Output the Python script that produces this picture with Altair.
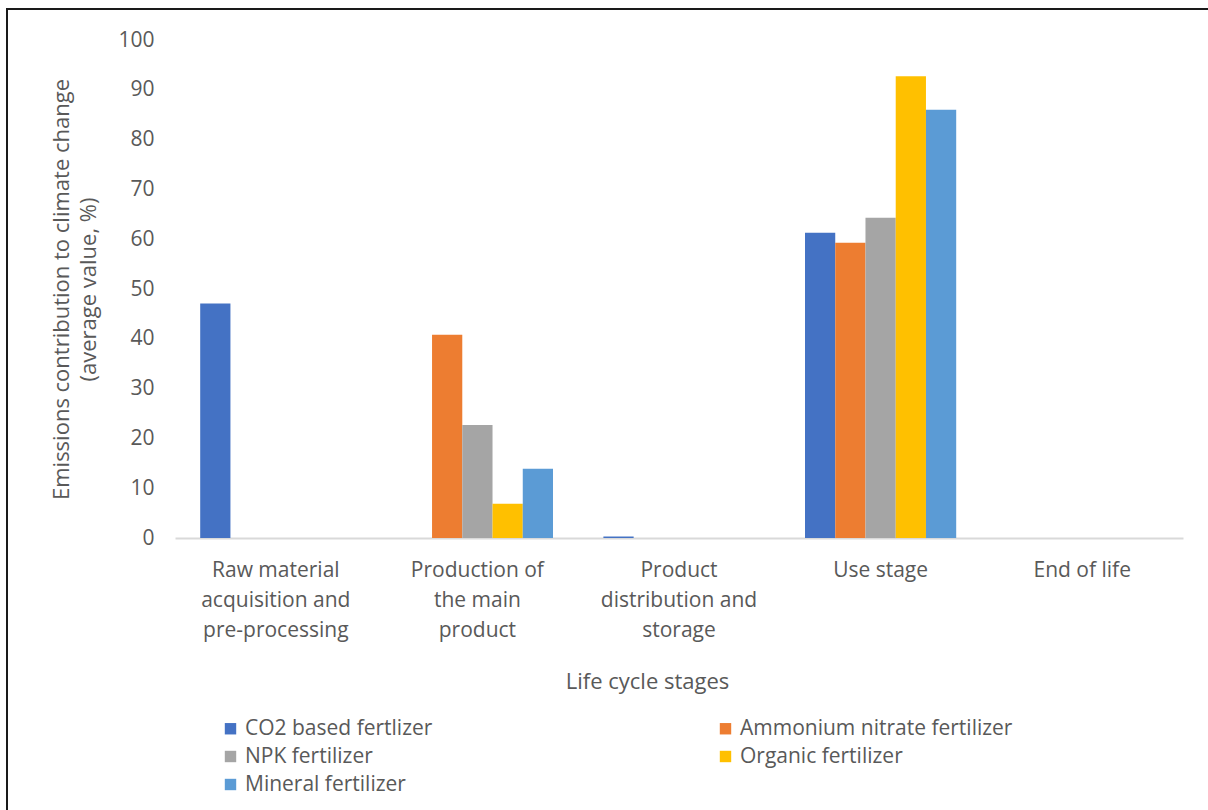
import altair as alt
import pandas as pd

stages = [
    "Raw material\nacquisition and\npre-processing",
    "Production of\nthe main\nproduct",
    "Product\ndistribution and\nstorage",
    "Use stage",
    "End of life",
]
fertilizers = [
    "CO2 based fertlizer",
    "Ammonium nitrate fertilizer",
    "NPK fertilizer",
    "Organic fertilizer",
    "Mineral fertilizer",
]
colors = ["#4472C4", "#ED7D31", "#A5A5A5", "#FFC000", "#5B9BD5"]

co2_based = [47.1, 0, 0.3, 61.3, 0]
ammonium_nitrate = [0, 40.8, 0, 59.3, 0]
npk = [0, 22.7, 0, 64.3, 0]
organic = [0, 6.9, 0, 92.7, 0]
mineral = [0, 13.9, 0, 86.0, 0]

series = [co2_based, ammonium_nitrate, npk, organic, mineral]
rows = []
for f, vals in zip(fertilizers, series):
    for s, v in zip(stages, vals):
        rows.append({"stage": s, "fertilizer": f, "value": v})
df = pd.DataFrame(rows)

# legend is filled column by column: reorder so it reads row by row like the reference
legend_order = [0, 2, 4, 1, 3]
legend_domain = [fertilizers[i] for i in legend_order]
legend_colors = [colors[i] for i in legend_order]

FONT = "Open Sans"
GREY = "#595959"

bars = alt.Chart(df).mark_bar().encode(
    x=alt.X(
        "stage:N",
        sort=stages,
        scale=alt.Scale(domain=stages, paddingInner=0.25, paddingOuter=0.125),
        axis=alt.Axis(
            title="Life cycle stages",
            labelAngle=0,
            labelExpr="split(datum.label, '\\n')",
            labelFontSize=21,
            labelLineHeight=30,
            labelPadding=21,
            labelColor=GREY,
            labelFont=FONT,
            labelBaseline="top",
            ticks=False,
            domainColor="#D9D9D9",
            domainWidth=2,
            titleFontSize=22,
            titleFont=FONT,
            titleFontWeight="normal",
            titleColor=GREY,
            titleX=472,
            titleY=143,
            titleBaseline="middle",
            titleAlign="center",
            labelLimit=300,
        ),
    ),
    xOffset=alt.XOffset("fertilizer:N", sort=fertilizers, scale=alt.Scale(domain=fertilizers)),
    y=alt.Y(
        "value:Q",
        scale=alt.Scale(domain=[0, 100]),
        axis=alt.Axis(
            title=["Emissions contribution to climate change", "(average value, %)"],
            values=list(range(0, 101, 10)),
            grid=False,
            domain=False,
            ticks=False,
            labelPadding=21,
            labelFontSize=21,
            labelColor=GREY,
            labelFont=FONT,
            titleFontSize=22,
            titleFont=FONT,
            titleFontWeight="normal",
            titleColor=GREY,
            titleLineHeight=27,
            titleX=-124,
            titleY=249,
            titleAngle=-90,
            titleBaseline="top",
            titleAlign="center",
        ),
    ),
    color=alt.Color(
        "fertilizer:N",
        scale=alt.Scale(domain=legend_domain, range=legend_colors),
        legend=alt.Legend(
            title=None,
            orient="none",
            legendX=45,
            legendY=678,
            columns=2,
            columnPadding=282,
            rowPadding=6,
            symbolType="square",
            symbolSize=130,
            symbolStrokeWidth=0,
            labelFontSize=21,
            labelFont=FONT,
            labelColor=GREY,
            labelLimit=400,
            labelOffset=4,
            padding=0,
        ),
    ),
)

frame_data = pd.DataFrame({"k": [0]})
frame_left = alt.Chart(frame_data).mark_rule(
    stroke="#1a1a1a", strokeWidth=2, clip=False
).encode(x=alt.value(-168), y=alt.value(-32), y2=alt.value(800))
frame_top = alt.Chart(frame_data).mark_rule(
    stroke="#1a1a1a", strokeWidth=2, clip=False
).encode(y=alt.value(-31), x=alt.value(-169), x2=alt.value(1040))

chart = (
    alt.layer(frame_left, frame_top, bars)
    .properties(
        width=1008,
        height=498,
        padding={"left": 175, "top": 40, "right": 25, "bottom": 272},
        autosize=alt.AutoSizeParams(type="none"),
        background="white",
    )
    .configure_view(stroke=None)
)

chart.save("out.html", embed_options={"renderer": "svg", "actions": False})
